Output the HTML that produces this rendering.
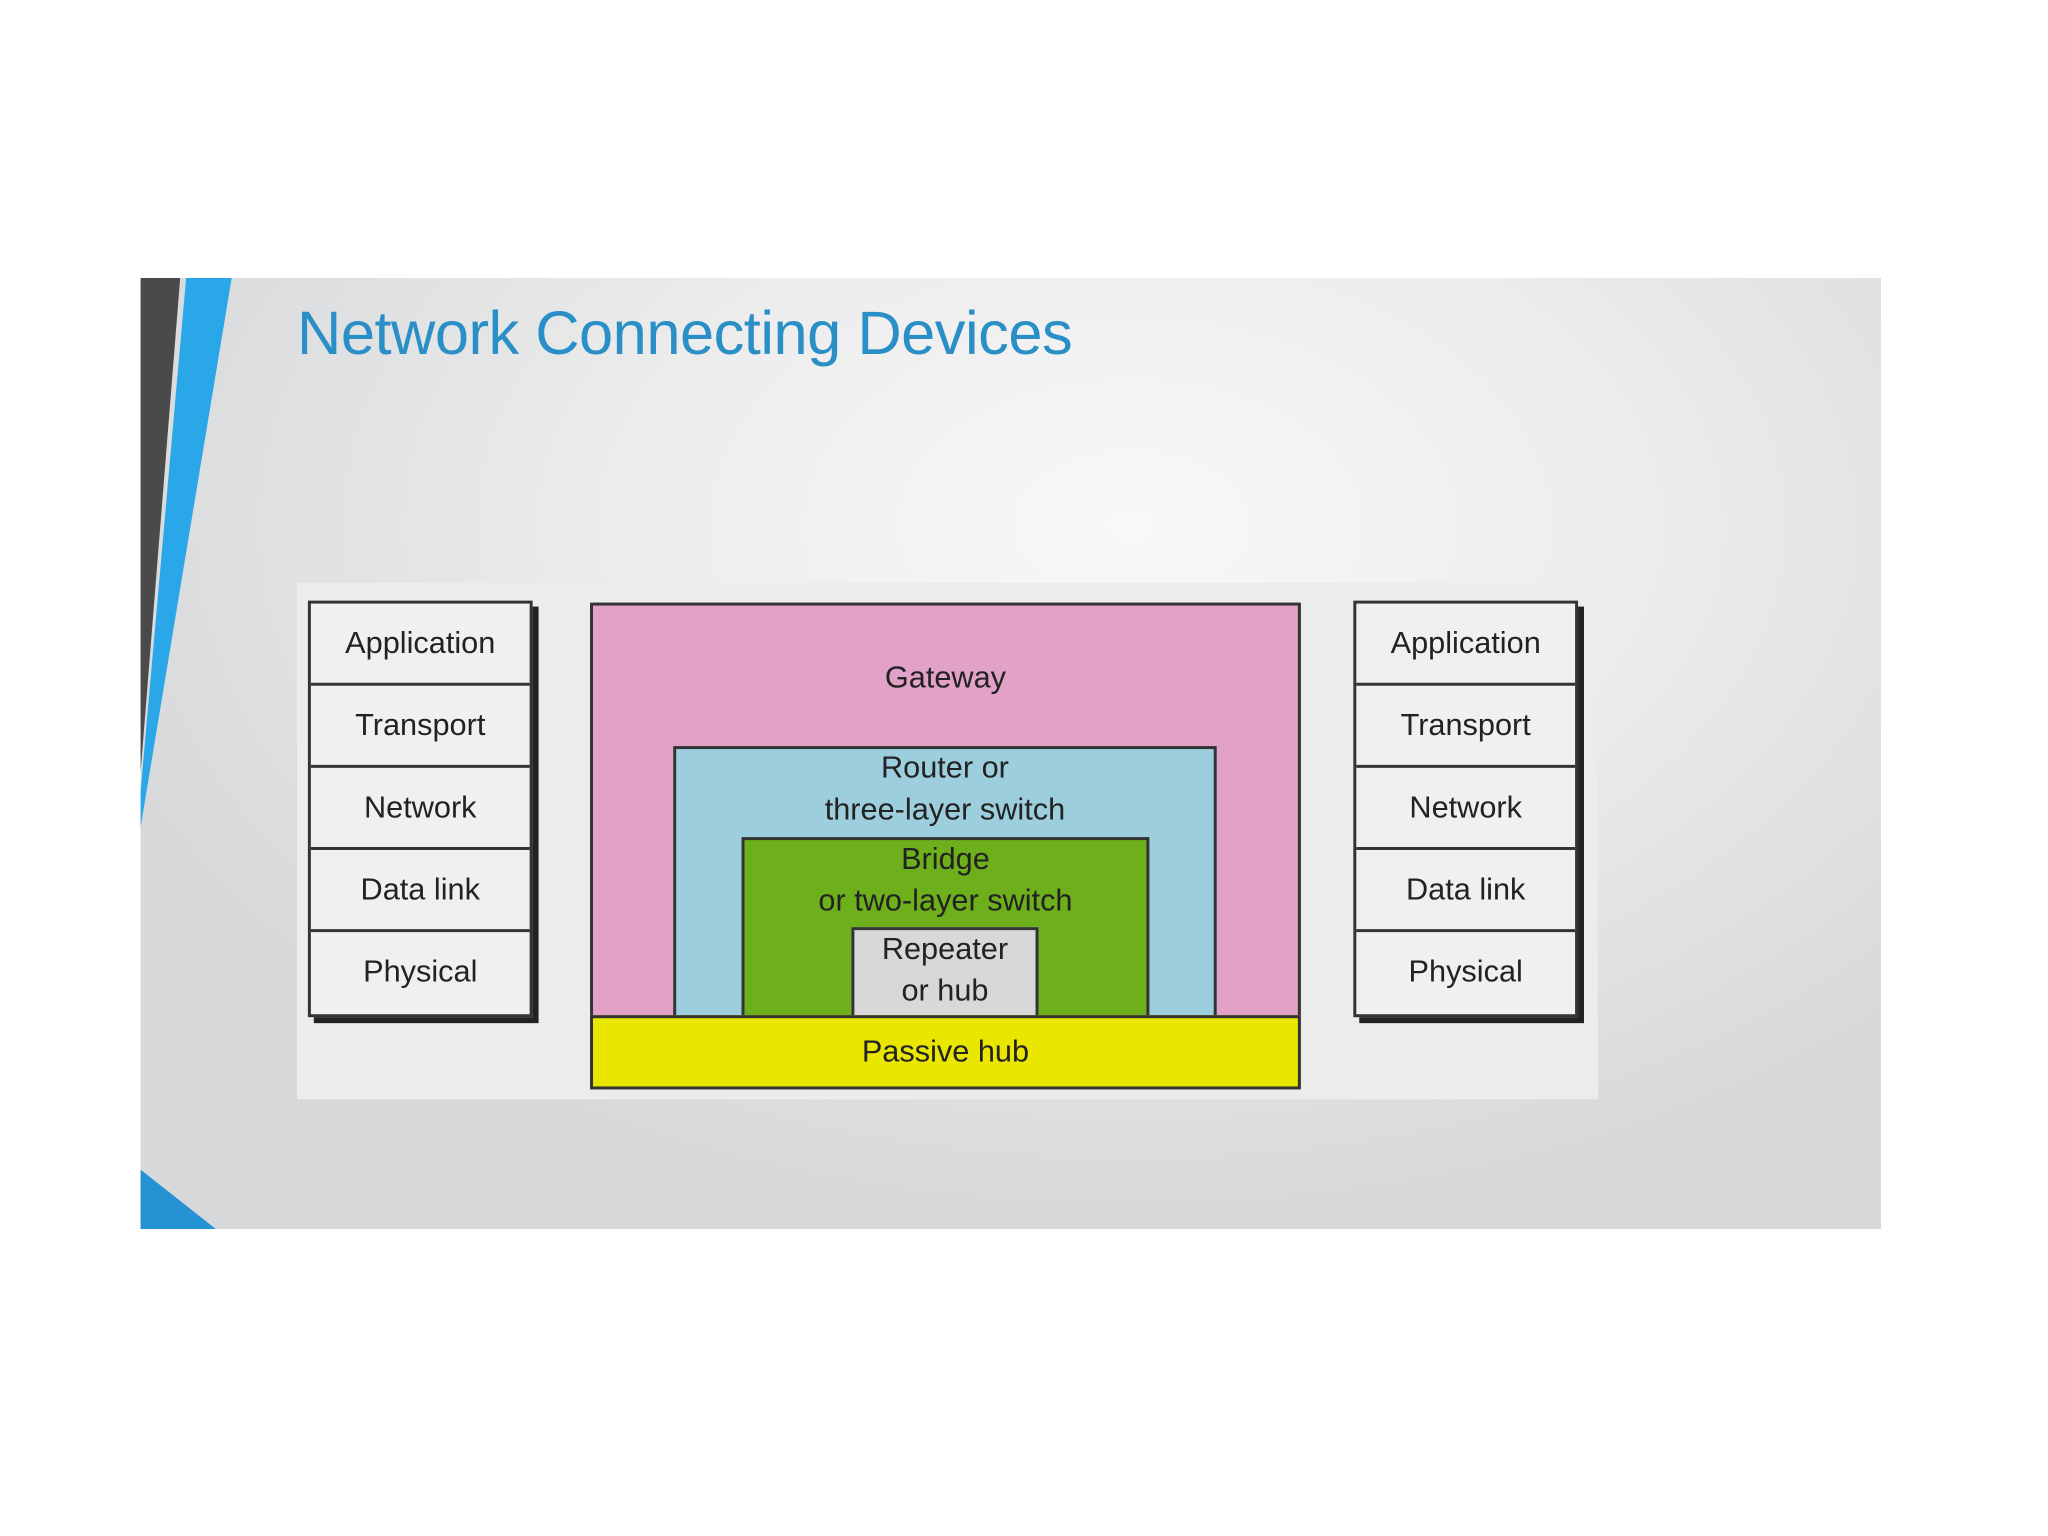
<!DOCTYPE html>
<html><head><meta charset="utf-8"><style>
*{margin:0;padding:0;box-sizing:border-box}
body{width:2048px;height:1536px;background:#fff;position:relative;overflow:hidden;font-family:"Liberation Sans",sans-serif}
#w{position:absolute;left:0;top:0;width:2048px;height:1536px;transform:scale(0.99,0.9895);transform-origin:0 0}
.slide{position:absolute;left:142px;top:281px;width:1758px;height:961px;overflow:hidden;
background:radial-gradient(ellipse 1100px 700px at 1000px 250px,#f8f8f8 0%,#ededed 45%,#d6d8da 100%)}
.title{position:absolute;left:300px;top:302px;font-size:62px;color:#2b8fc7;letter-spacing:-0.5px}
.panel{position:absolute;left:300px;top:589px;width:1314px;height:522px;background:#ececec}
.lbl{font-family:"Liberation Sans Narrow","Liberation Sans",sans-serif;font-size:31px;color:#222;text-align:center}
.stack{position:absolute;width:227px;top:607px;border:3px solid #333;box-shadow:6px 6px 0 #222;background:#f0f0f0}
.stack div{height:83px;line-height:80px;border-bottom:3px solid #333}
.stack div:last-child{border-bottom:none}
.box{position:absolute;border:3px solid #333}
</style></head><body><div id="w">
<div class="slide"></div>
<svg width="2048" height="1536" style="position:absolute;left:0;top:0">
<polygon points="142,281 182,281 142,780" fill="#4a4a4a"/>
<polygon points="188,281 234,281 142,836 142,800" fill="#2aa7e8"/>
<polygon points="142,1182 218,1242 142,1242" fill="#2592d4"/>
</svg>
<div class="title">Network Connecting Devices</div>
<div class="panel"></div>
<div class="stack lbl" style="left:311px"><div>Application</div><div>Transport</div><div>Network</div><div>Data link</div><div>Physical</div></div>
<div class="stack lbl" style="left:1367px"><div>Application</div><div>Transport</div><div>Network</div><div>Data link</div><div>Physical</div></div>
<div class="box lbl" style="left:596px;top:609px;width:718px;height:420px;background:#e2a1c6"><div style="margin-top:55px">Gateway</div></div>
<div class="box lbl" style="left:680px;top:754px;width:549px;height:275px;background:#9dcedd;line-height:42px"><div style="margin-top:-2px">Router or<br>three-layer switch</div></div>
<div class="box lbl" style="left:749px;top:846px;width:412px;height:183px;background:#6eaf1c;line-height:42px"><div style="margin-top:-2px">Bridge<br>or two-layer switch</div></div>
<div class="box lbl" style="left:860px;top:937px;width:189px;height:92px;background:#d8d8d8;line-height:42px"><div style="margin-top:-2px">Repeater<br>or hub</div></div>
<div class="box lbl" style="left:596px;top:1026px;width:718px;height:75px;background:#e9e600;line-height:68px">Passive hub</div>
</div></body></html>
